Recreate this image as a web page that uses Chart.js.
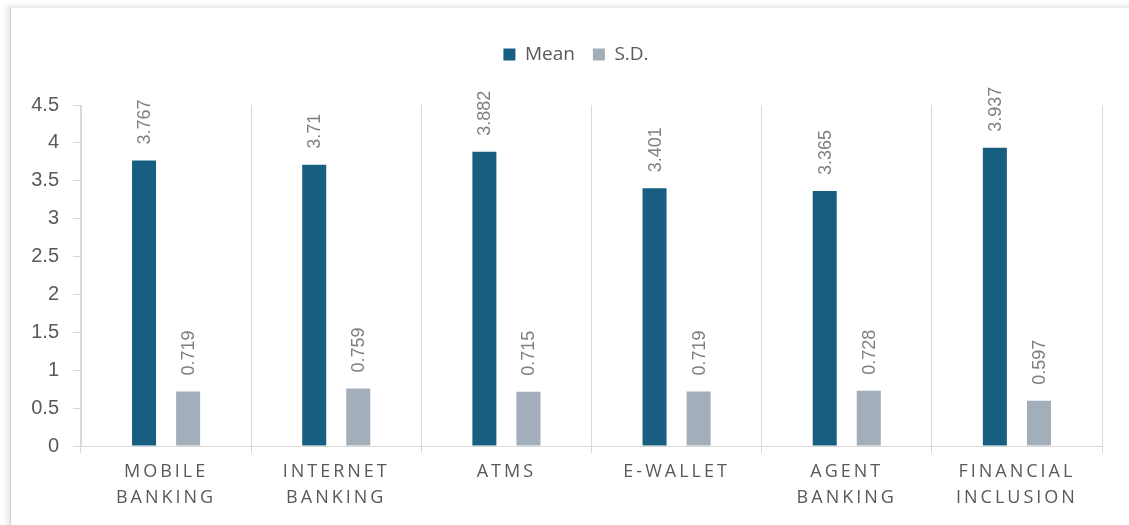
<!DOCTYPE html>
<html>
<head>
<meta charset="utf-8">
<title>Mean and S.D.</title>
<script src="https://cdn.jsdelivr.net/npm/chart.js@4"></script>
<style>
  html, body { margin: 0; padding: 0; background: #fff; overflow: hidden; }
  #frame {
    position: absolute; left: 10px; top: 7px; width: 1130px; height: 530px;
    border-left: 1px solid #d4d4d4; border-top: 1px solid #ececec;
    box-shadow: -3px -1px 6px rgba(0,0,0,0.10);
    background: #fff;
  }
  #wrap { position: absolute; left: 0; top: 0; width: 1130px; height: 518px; }
</style>
</head>
<body>
<div id="frame">
  <div id="wrap"><canvas id="myChart"></canvas></div>
</div>
<script>
// categories (two lines each) and the two series
var categories = [
  ["MOBILE", "BANKING"],
  ["INTERNET", "BANKING"],
  ["ATMS"],
  ["E-WALLET"],
  ["AGENT", "BANKING"],
  ["FINANCIAL", "INCLUSION"]
];
var meanValues = [3.767, 3.71, 3.882, 3.401, 3.365, 3.937];
var sdValues = [0.719, 0.759, 0.715, 0.719, 0.728, 0.597];
var yTicks = [0, 0.5, 1, 1.5, 2, 2.5, 3, 3.5, 4, 4.5];

var gridColor = '#d9d9d9';
var textColor = '#595959';

// vertical value labels above each bar
var barLabels = {
  id: 'barLabels',
  afterDatasetsDraw: function(chart) {
    var ctx = chart.ctx;
    chart.data.datasets.forEach(function(ds, i) {
      var meta = chart.getDatasetMeta(i);
      meta.data.forEach(function(bar, j) {
        ctx.save();
        ctx.translate(bar.x + 1, bar.y - 16);
        ctx.rotate(-Math.PI / 2);
        ctx.font = '18px "Liberation Sans", Arial, sans-serif';
        ctx.fillStyle = '#7f7f7f';
        ctx.textAlign = 'left';
        ctx.textBaseline = 'middle';
        ctx.fillText(String(ds.data[j]), 0, 0);
        ctx.restore();
      });
    });
  }
};

// extra room under the legend, legend centred on the whole canvas,
// and spaced-out category labels
var spacing = {
  id: 'spacing',
  beforeInit: function(chart) {
    var fit = chart.legend.fit;
    chart.legend.fit = function() {
      fit.bind(chart.legend)();
      this.height = 78;
    };
  },
  afterLayout: function(chart) {
    chart.legend.left = 0;
    chart.legend.right = chart.width;
  },
  beforeDraw: function(chart) {
    var xs = chart.scales.x;
    if (xs && !xs._spaced) {
      var draw = xs.drawLabels;
      xs.drawLabels = function(area) {
        chart.ctx.save();
        chart.ctx.letterSpacing = '3px';
        draw.call(this, area);
        chart.ctx.restore();
      };
      xs._spaced = true;
    }
  }
};

var ctx = document.getElementById('myChart').getContext('2d');
var chart = new Chart(ctx, {
  type: 'bar',
  data: {
    labels: categories,
    datasets: [{
      label: 'Mean',
      data: meanValues,
      backgroundColor: '#185e80',
      categoryPercentage: 0.518,
      barPercentage: 0.545
    }, {
      label: 'S.D.',
      data: sdValues,
      backgroundColor: '#a2aeba',
      categoryPercentage: 0.518,
      barPercentage: 0.545
    }]
  },
  options: {
    responsive: true,
    maintainAspectRatio: false,
    animation: false,
    layout: { padding: { top: 19, right: 39, left: 0, bottom: 0 } },
    plugins: {
      tooltip: { enabled: false },
      legend: {
        position: 'top',
        padding: 10,
        labels: {
          boxWidth: 12,
          boxHeight: 12,
          padding: 18,
          color: textColor,
          font: { family: '"Open Sans", sans-serif', size: 19 }
        }
      }
    },
    scales: {
      x: {
        offset: true,
        grid: { display: true, offset: true, color: gridColor, drawOnChartArea: true, tickLength: 7 },
        border: { display: true, color: gridColor },
        ticks: {
          color: textColor,
          padding: 6,
          maxRotation: 0,
          font: { family: '"Open Sans", sans-serif', size: 18, lineHeight: 1.43 }
        },
        afterFit: function(s) { s.height = 80; }
      },
      y: {
        min: 0,
        max: 4.5,
        afterBuildTicks: function(s) {
          s.ticks = yTicks.map(function(v) { return { value: v }; });
        },
        grid: { drawOnChartArea: false, drawTicks: true, tickLength: 8, color: gridColor },
        border: { display: true, color: gridColor },
        ticks: {
          color: textColor,
          padding: 14,
          callback: function(v) { return String(v); },
          font: { family: '"Liberation Sans", Arial, sans-serif', size: 20 }
        },
        afterFit: function(s) { s.width = 70; }
      }
    }
  },
  plugins: [barLabels, spacing]
});
chart.draw();
</script>
</body>
</html>
